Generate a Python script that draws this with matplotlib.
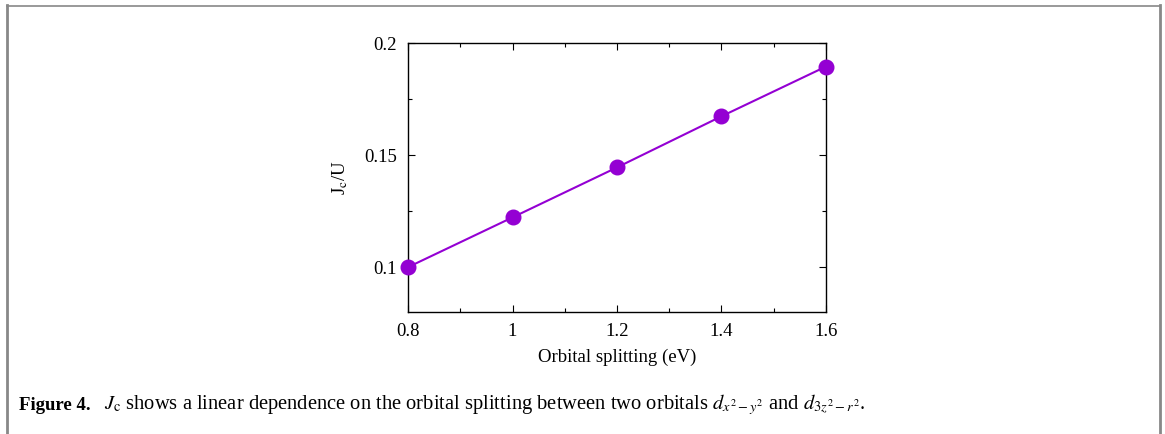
import matplotlib
matplotlib.use("Agg")
import matplotlib.pyplot as plt
from matplotlib.lines import Line2D
from matplotlib.ticker import MultipleLocator

splitting = [0.8, 1.0, 1.2, 1.4, 1.6]
jc_over_u = [0.100, 0.1222, 0.1445, 0.1673, 0.1895]
xticks = [0.8, 1.0, 1.2, 1.4, 1.6]
xticklabels = ["0.8", "1", "1.2", "1.4", "1.6"]
yticks = [0.1, 0.15, 0.2]
yticklabels = ["0.1", "0.15", "0.2"]

plt.rcParams['font.family'] = ['Liberation Serif', 'DejaVu Serif']
plt.rcParams['mathtext.fontset'] = 'stix'

W, H = 1165, 434
fig = plt.figure(figsize=(W/100, H/100), dpi=100)

# page frame
gray = '#888888'
fig.add_artist(Line2D([7/W, 1160/W], [1-5.5/H, 1-5.5/H], color=gray, lw=1.2, transform=fig.transFigure))
fig.add_artist(Line2D([7/W, 7/W], [0, 1-5/H], color=gray, lw=2.0, transform=fig.transFigure))
fig.add_artist(Line2D([1160/W, 1160/W], [0, 1-5/H], color=gray, lw=2.0, transform=fig.transFigure))

ax = fig.add_axes([408/W, 1-312/H, (826-408)/W, (312-43)/H])
color = '#9400D3'
ax.plot(splitting, jc_over_u, '-', color=color, lw=1.5, marker='o', ms=10.5, clip_on=False, zorder=3)
ax.set_xlim(0.8, 1.6)
ax.set_ylim(0.08, 0.2)
ax.set_xticks(xticks)
ax.set_xticklabels(xticklabels)
ax.set_yticks(yticks)
ax.set_yticklabels(yticklabels)
ax.xaxis.set_minor_locator(MultipleLocator(0.1))
ax.yaxis.set_minor_locator(MultipleLocator(0.025))
ax.tick_params(which='both', direction='in', top=True, right=True, labelsize=13.5, width=0.8)
ax.tick_params(which='major', length=5, pad=8)
ax.tick_params(which='minor', length=3)
for s in ax.spines.values():
    s.set_linewidth(1.0)
ax.set_xlabel('Orbital splitting (eV)', fontsize=13.5, labelpad=6)
ax.set_ylabel(r'J$_\mathrm{c}$/U', fontsize=13.5, labelpad=10)

fig.text(19/W, 1-405/H, 'Figure 4.', fontsize=13.5, fontweight='bold', va='center', ha='left')
fig.text(104/W, 1-405/H,
         r'$J_\mathrm{c}$ shows a linear dependence on the orbital splitting between two orbitals $d_{x^2-y^2}$ and $d_{3z^2-r^2}$.',
         fontsize=14.8, va='center', ha='left')

fig.savefig('out.png', dpi=100)
